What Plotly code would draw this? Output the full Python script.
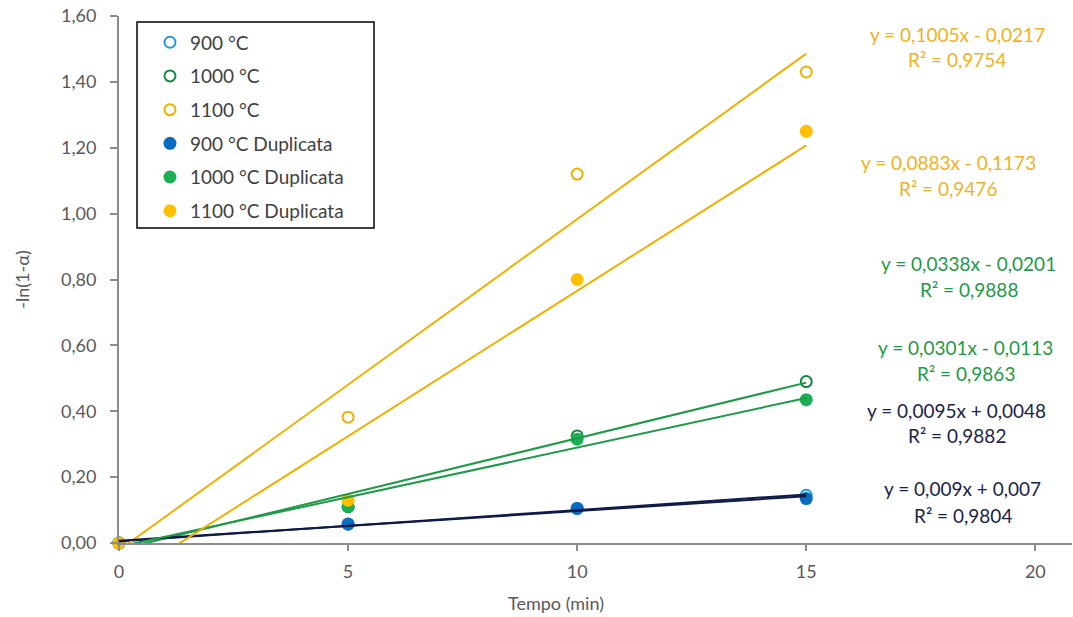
import plotly.graph_objects as go

# Time points (min)
tempo = [0, 5, 10, 15]

# -ln(1-alpha) for each temperature run and its duplicate
y_900 = [0, 0.057, 0.105, 0.145]
y_1000 = [0, 0.110, 0.325, 0.490]
y_1100 = [0, 0.382, 1.120, 1.430]
y_900_dup = [0, 0.058, 0.105, 0.135]
y_1000_dup = [0, 0.110, 0.315, 0.435]
y_1100_dup = [0, 0.130, 0.800, 1.250]

series_names = ["900 °C", "1000 °C", "1100 °C",
                "900 °C Duplicata", "1000 °C Duplicata", "1100 °C Duplicata"]

# Linear trendline coefficients and R² for each series
slopes = [0.0095, 0.0338, 0.1005, 0.009, 0.0301, 0.0883]
intercepts = [0.0048, -0.0201, -0.0217, 0.007, -0.0113, -0.1173]
r2_values = [0.9882, 0.9888, 0.9754, 0.9804, 0.9863, 0.9476]

x_ticks = [0, 5, 10, 15, 20]
y_ticks = [0, 0.2, 0.4, 0.6, 0.8, 1.0, 1.2, 1.4, 1.6]

series_values = [y_900, y_1000, y_1100, y_900_dup, y_1000_dup, y_1100_dup]

# Styling per series
marker_fill = ["white", "white", "white", "#0A6CC0", "#1BAE55", "#FFC000"]
marker_edge = ["#1F9BDE", "#13893F", "#EDB100", "#0A6CC0", "#1BAE55", "#FFC000"]
marker_open = [True, True, True, False, False, False]
line_color = ["#101A48", "#1F9A48", "#F0B000", "#101A48", "#1F9A48", "#F0B000"]
text_color = ["#1B2447", "#1E9A48", "#EFB21E", "#1B2447", "#1E9A48", "#EFB21E"]
# Equation label anchor (data coords): x centre, y of equation line, y of R² line
label_pos = [(18.28, 0.401, 0.325), (18.55, 0.850, 0.771), (18.30, 1.545, 1.469),
             (18.41, 0.164, 0.085), (18.48, 0.595, 0.516), (18.10, 1.154, 1.075)]

FONT = "Lato, Open Sans, sans-serif"


def fmt_num(v):
    s = f"{abs(v):.4f}".rstrip("0").rstrip(".")
    return s.replace(".", ",")


fig = go.Figure()

for i, name in enumerate(series_names):
    if marker_open[i]:
        marker = dict(symbol="circle", size=11, color="white",
                      line=dict(color=marker_edge[i], width=2))
    else:
        marker = dict(symbol="circle", size=13, color=marker_fill[i],
                      line=dict(color=marker_edge[i], width=0))
    fig.add_trace(go.Scatter(
        x=tempo, y=series_values[i], mode="markers", name=name,
        marker=marker, legendgroup=f"g{i}", cliponaxis=False,
    ))

# Trendlines drawn from the fitted coefficients
for i in range(len(series_names)):
    xs = [tempo[0], tempo[-1]]
    ys = [slopes[i] * x + intercepts[i] for x in xs]
    fig.add_trace(go.Scatter(
        x=xs, y=ys, mode="lines", showlegend=False, hoverinfo="skip",
        line=dict(color=line_color[i], width=2),
    ))

annotations = []
for i in range(len(series_names)):
    sign = "+" if intercepts[i] >= 0 else "-"
    eq = f"y = {fmt_num(slopes[i])}x {sign} {fmt_num(intercepts[i])}"
    r2 = f"R² = {fmt_num(r2_values[i])}"
    xc, ye, yr = label_pos[i]
    for txt, yy in ((eq, ye), (r2, yr)):
        annotations.append(dict(
            x=xc, y=yy, xref="x", yref="y", text=txt, showarrow=False,
            xanchor="center", yanchor="middle",
            font=dict(family=FONT, size=19, color=text_color[i]),
        ))

axis_font = dict(family=FONT, size=18, color="#595959")

# x-axis title
annotations.append(dict(
    x=0.4586, y=-0.114, xref="paper", yref="paper", text="Tempo (min)",
    showarrow=False, xanchor="center", yanchor="middle", font=axis_font,
))

fig.update_layout(
    width=1073, height=617,
    margin=dict(l=119, r=1, t=16, b=74),
    plot_bgcolor="white", paper_bgcolor="white",
    separators=",.",
    font=axis_font,
    annotations=annotations,
    # frame around the legend
    shapes=[dict(
        type="rect", xref="paper", yref="paper",
        x0=0.0189, x1=0.2676, y0=0.5977, y1=0.9886,
        line=dict(color="#000000", width=1.5), fillcolor="white", layer="below",
    )],
    legend=dict(
        x=0.0325, y=0.986, xanchor="left", yanchor="top",
        bgcolor="rgba(0,0,0,0)", borderwidth=0,
        font=dict(family=FONT, size=19, color="#404040"),
        traceorder="grouped", tracegroupgap=6,
        itemwidth=30,
    ),
    xaxis=dict(
        range=[0, 20.8], tickvals=x_ticks, ticktext=[str(v) for v in x_ticks],
        showgrid=False, zeroline=False,
        showline=True, linecolor="#8C8C8C", linewidth=2,
        ticks="outside", ticklen=6, tickcolor="#8C8C8C", tickwidth=1.5,
        tickfont=axis_font, ticklabelstandoff=5,
    ),
    yaxis=dict(
        range=[0, 1.6], tickvals=y_ticks, tickformat=".2f",
        showgrid=False, zeroline=False,
        showline=True, linecolor="#8C8C8C", linewidth=2,
        ticks="outside", ticklen=7, tickcolor="#8C8C8C", tickwidth=1.5,
        tickfont=axis_font, ticklabelstandoff=10,
        title=dict(text="-ln(1-α)", font=axis_font, standoff=27),
    ),
)

fig.write_html("out.html")
